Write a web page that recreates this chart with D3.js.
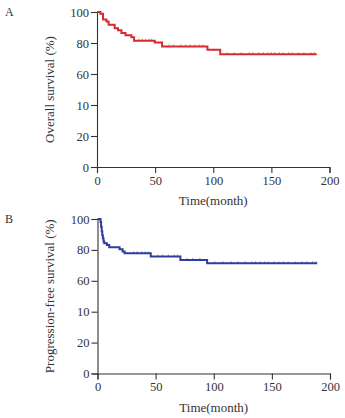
<!doctype html>
<html lang="en">
<head>
    <meta charset="utf-8">
    <title>Survival curves</title>
    <script src="https://d3js.org/d3.v7.min.js"></script>
    <style>
        body { margin: 0; background: #fff; }
        text { font-family: "Liberation Serif", "DejaVu Serif", serif; fill: #333; }
    </style>
</head>
<body>
<script>
    // Tick labels as printed on the figure (the "10" is in the original)
    const xTicks      = [0, 50, 100, 150, 200];
    const yTicks      = [0, 20, 40, 60, 80, 100];
    const yTickLabels = ["0", "20", "10", "60", "80", "100"];

    // Overall survival: step start times (month) and survival (%)
    const osTime   = [0, 2.9, 5.2, 8.1, 10, 15.2, 18.1, 21, 24.5, 29.6, 31.9, 49.7, 56, 95, 106, 189];
    const osSurv   = [100, 98.9, 95.1, 93.8, 91.8, 89.5, 88.2, 86.5, 85, 83.7, 81.5, 80.4, 77.8, 75.7, 72.8, 72.8];
    const osCensor = [36, 39, 42, 45, 47, 62, 66, 72, 76, 80, 84, 88, 91, 112, 118, 124, 131, 134, 139,
                      143, 147, 150, 153, 157, 160, 165, 168, 173, 178, 184, 187];

    // Progression-free survival
    const pfsTime   = [0, 2.6, 3.1, 3.6, 4.1, 4.6, 5.2, 5.8, 8.1, 10.1, 19, 21.6, 23.3, 45.8, 71.3, 94.3, 189];
    const pfsSurv   = [100, 98, 95, 92, 89.5, 87.5, 85.5, 84.3, 83.2, 81.7, 80.4, 78.9, 77.8, 75.7, 73.5, 71.3, 71.3];
    const pfsCensor = [31, 34, 38, 41, 44, 52, 56, 61, 66, 69, 77, 82, 88, 101, 108, 115, 121, 127, 133,
                       136, 140, 144, 147, 152, 156, 160, 164, 170, 176, 180, 185, 188];

    const W = 345, H = 418;
    const svg = d3.select("body").append("svg")
        .attr("width", W).attr("height", H);

    function drawPanel(opts)
    {
        const x = d3.scaleLinear().domain([0, 200]).range([opts.x0, opts.x1]);
        const y = d3.scaleLinear().domain([0, 100]).range([opts.y0, opts.y1]);

        const g = svg.append("g");

        // bottom axis
        const xa = g.append("g")
            .attr("transform", "translate(0," + opts.y0 + ")")
            .call(d3.axisBottom(x).tickValues(xTicks).tickSize(6).tickPadding(3));
        // left axis
        const ya = g.append("g")
            .attr("transform", "translate(" + opts.x0 + ",0)")
            .call(d3.axisLeft(y).tickValues(yTicks).tickSize(6).tickPadding(2)
                .tickFormat(d => yTickLabels[yTicks.indexOf(d)]));

        [xa, ya].forEach(a => {
            a.select(".domain").attr("stroke", "#333").attr("stroke-width", 1.1);
            a.selectAll(".tick line").attr("stroke", "#333").attr("stroke-width", 1.1);
            a.selectAll("text").attr("font-size", 12.5).attr("fill", "#333")
                .style("font-family", "'Liberation Serif', serif");
        });

        // step curve
        const pts = opts.time.map((t, i) => [t, opts.surv[i]]);
        g.append("path")
            .datum(pts)
            .attr("fill", "none")
            .attr("stroke", opts.color)
            .attr("stroke-width", 2)
            .attr("d", d3.line()
                .x(d => x(d[0]))
                .y(d => y(d[1]))
                .curve(d3.curveStepAfter));

        // censor marks
        const survAt = t => {
            let s = opts.surv[0];
            for (let i = 0; i < opts.time.length; i++) if (opts.time[i] <= t) s = opts.surv[i];
            return s;
        };
        g.selectAll(".cens")
            .data(opts.censor)
            .enter().append("line")
            .attr("x1", d => x(d)).attr("x2", d => x(d))
            .attr("y1", d => y(survAt(d)) - 2)
            .attr("y2", d => y(survAt(d)))
            .attr("stroke", opts.color)
            .attr("stroke-opacity", 0.7)
            .attr("stroke-width", 0.8);

        // axis titles
        g.append("text")
            .attr("x", (opts.x0 + opts.x1) / 2)
            .attr("y", opts.y0 + 38)
            .attr("text-anchor", "middle")
            .attr("font-size", 13)
            .text("Time(month)");

        g.append("text")
            .attr("transform", "translate(" + 54 + "," + ((opts.y0 + opts.y1) / 2) + ") rotate(-90)")
            .attr("text-anchor", "middle")
            .attr("font-size", 13)
            .text(opts.ylabel);

        // panel letter
        g.append("text")
            .attr("x", 5).attr("y", opts.y1 + 4)
            .attr("font-size", 12)
            .text(opts.letter);
    }

    drawPanel({ x0: 97, x1: 329.5, y0: 167, y1: 12, time: osTime, surv: osSurv, censor: osCensor,
                color: "#d62a30", ylabel: "Overall survival (%)", letter: "A" });
    drawPanel({ x0: 97.5, x1: 330, y0: 373.5, y1: 219, time: pfsTime, surv: pfsSurv, censor: pfsCensor,
                color: "#2f3d9c", ylabel: "Progression-free survival (%)", letter: "B" });
</script>
</body>
</html>
